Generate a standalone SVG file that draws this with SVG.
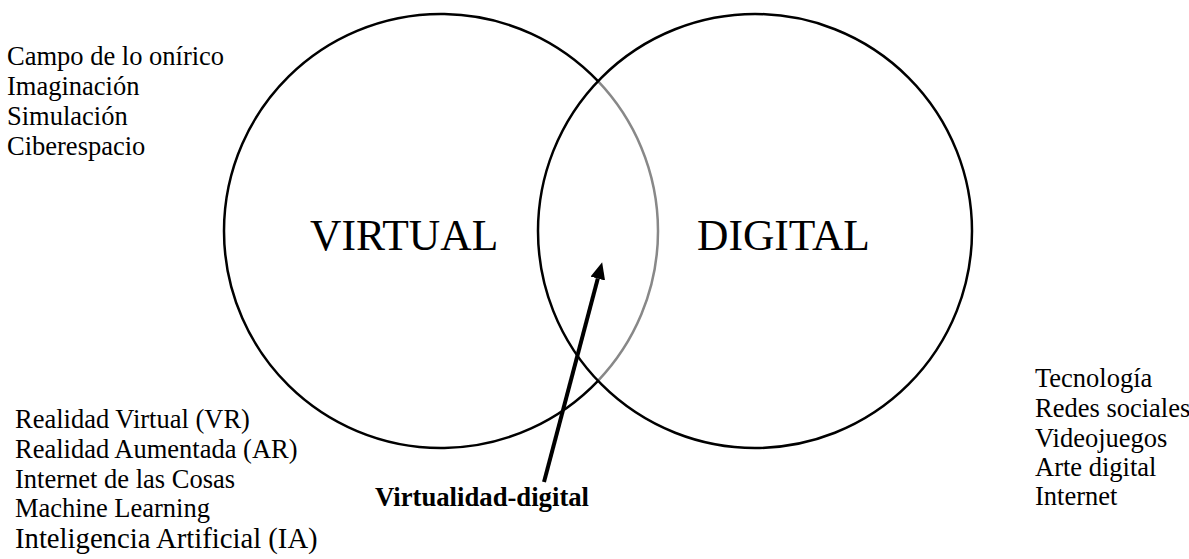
<svg xmlns="http://www.w3.org/2000/svg" width="1189" height="559" viewBox="0 0 1189 559">
  <style>
    .ring { fill: none; stroke: #000; stroke-width: 2.5; }
    .ring-inner { fill: none; stroke: #888; stroke-width: 2.5; }
    text { font-family: 'Liberation Serif', 'DejaVu Serif', serif; fill: #000; }
    .list { font-size: 26.5px; }
    .big { font-size: 43.5px; }
    .tag { font-size: 26.7px; font-weight: bold; }
    .pointer { stroke: #000; stroke-width: 4; fill: none; }
  </style>
  <defs>
    <marker id="head" markerUnits="userSpaceOnUse" markerWidth="18" markerHeight="16" viewBox="0 0 18 16" refX="0" refY="7.5" orient="auto">
      <path d="M0,0 L17,7.5 L0,15 z" fill="#000"/>
    </marker>
  </defs>

  <rect width="1189" height="559" fill="#fff"/>

  <!-- VIRTUAL set: outer arc black, the part inside DIGITAL in grey -->
  <g id="virtual">
    <path class="ring" d="M598,81.2 A217,217 0 1,0 598,380.8"/>
    <path class="ring-inner" d="M598,81.2 A217,217 0 0,1 598,380.8"/>
    <text class="big" x="310" y="250">VIRTUAL</text>
  </g>

  <!-- DIGITAL set -->
  <g id="digital">
    <circle class="ring" cx="755" cy="231" r="217"/>
    <text class="big" x="697" y="250">DIGITAL</text>
  </g>

  <g id="virtual-concepts">
    <text class="list" x="7" y="65">Campo de lo onírico</text>
    <text class="list" x="7" y="95">Imaginación</text>
    <text class="list" x="7" y="125">Simulación</text>
    <text class="list" x="7" y="155">Ciberespacio</text>
  </g>

  <g id="virtual-digital-tech">
    <text class="list" x="15" y="428">Realidad Virtual (VR)</text>
    <text class="list" x="15" y="458">Realidad Aumentada (AR)</text>
    <text class="list" x="15" y="488">Internet de las Cosas</text>
    <text class="list" x="15" y="517">Machine Learning</text>
    <text class="list" x="15" y="548" style="font-size:28.7px">Inteligencia Artificial (IA)</text>
  </g>

  <g id="digital-concepts">
    <text class="list" x="1035" y="387">Tecnología</text>
    <text class="list" x="1035" y="417">Redes sociales</text>
    <text class="list" x="1035" y="447">Videojuegos</text>
    <text class="list" x="1035" y="476">Arte digital</text>
    <text class="list" x="1035" y="505">Internet</text>
  </g>

  <g id="intersection-label">
    <text class="tag" x="375" y="506">Virtualidad-digital</text>
  </g>

  <g id="connectors">
    <line class="pointer" x1="544" y1="482" x2="597.8" y2="278.6" marker-end="url(#head)"/>
  </g>
</svg>
